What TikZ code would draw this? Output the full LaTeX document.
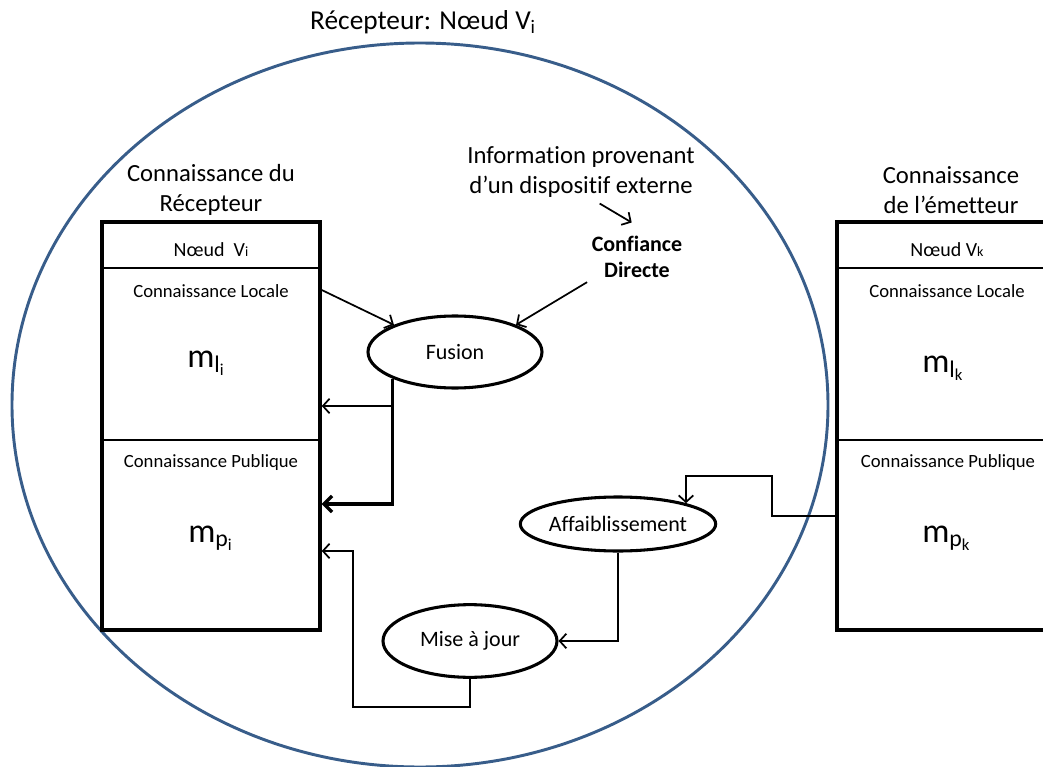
\documentclass[tikz,border=0pt]{standalone}
\usepackage{fontspec}
\setmainfont[Ligatures={NoCommon}]{Carlito}
\usetikzlibrary{positioning, arrows.meta, shapes}
\definecolor{bleuCercle}{RGB}{56,93,138}

\begin{document}
\begin{tikzpicture}[x=0.75pt,y=-0.75pt,
		grand/.style={font=\fontsize{18.5}{22.5}\selectfont,align=center},
		petit/.style={font=\fontsize{14}{16}\selectfont},
		masse/.style={font=\fontsize{25.5}{28}\selectfont,anchor=base west,inner sep=0pt},
		boite/.style={draw,line width=2.6pt,minimum width=163.5pt,minimum height=306pt},
		bulle/.style={draw,ellipse,line width=2.3pt,font=\fontsize{16.5}{18}\selectfont,inner sep=0pt},
		fleche/.style={line width=1.3pt,-{Straight Barb[length=5pt,width=11pt]}},
		grosse/.style={line width=2.5pt,-{Straight Barb[length=6pt,width=12pt]}}]
			\useasboundingbox (0,0) rectangle (1043,767);
			\clip (0,0) rectangle (1043,767);
			
			\draw[bleuCercle,line width=2.2pt] (420,405) ellipse [x radius=306pt, y radius=271.5pt];
			\node[grand,font=\fontsize{20.5}{24}\selectfont] (titre) at (423,22) {Récepteur: Nœud V\textsubscript{i}};
			
			\node[boite] (recep) at (211,426) {};
			\node[boite] (emet) at (946,426) {};
			\foreach \b in {recep,emet} {
				\draw[line width=0.9pt] (\b.west |- 0,268) -- (\b.east |- 0,268);
				\draw[line width=0.9pt] (\b.west |- 0,440) -- (\b.east |- 0,440);
			}
			
			\node[grand] (titreRecep) at (211,190) {Connaissance du\\Récepteur};
			\node[grand] (titreEmet) at (951,190) {Connaissance\\de l’émetteur};
			
			\node[petit,font=\fontsize{15}{17}\selectfont] (noeudI) at (211,250) {Nœud~~V{\fontsize{10.5}{12}\selectfont i}};
			\node[petit] (localeI) at (211,291) {Connaissance Locale};
			\node[petit] (publicI) at (211,463) {Connaissance Publique};
			\node[masse] (mli) at (187,367) {m\textsubscript{l\textsubscript{i}}};
			\node[masse] (mpi) at (188,542) {m\textsubscript{p\textsubscript{i}}};
			
			\node[petit,font=\fontsize{15}{17}\selectfont] (noeudK) at (947,250) {Nœud V{\fontsize{10.5}{12}\selectfont k}};
			\node[petit] (localeK) at (947,291) {Connaissance Locale};
			\node[petit] (publicK) at (948,463) {Connaissance Publique};
			\node[masse] (mlk) at (922,372) {m\textsubscript{l\textsubscript{k}}};
			\node[masse] (mpk) at (922,542) {m\textsubscript{p\textsubscript{k}}};
			
			\node[grand] (info) at (581,172) {Information provenant\\d’un dispositif externe};
			\node[grand,font=\fontsize{16.5}{19}\selectfont\bfseries] (confiance) at (637,257) {Confiance\\Directe};
			
			\node[bulle,minimum width=130.5pt,minimum height=54pt] (fusion) at (455,352) {Fusion};
			\node[bulle,minimum width=137pt,minimum height=40.5pt] (affai) at (618,524) {Affaiblissement};
			\node[bulle,minimum width=130.5pt,minimum height=54.5pt] (maj) at (470,641) {Mise à jour};
			
			\draw[fleche] ([xshift=14pt,yshift=-1pt]info.south) -- ([xshift=-4pt,yshift=7pt]confiance.north);
			\draw[fleche] (confiance.south west) -- (fusion.24);
			\draw[fleche] (recep.east |- 0,290) -- (fusion.156);
			\draw[grosse] (fusion.203) |- (recep.east |- 0,504);
			\draw[fleche] (fusion.203 |- 0,406) -- (recep.east |- 0,406);
			\draw[fleche] (emet.west |- 0,516) -- (772,516) |- (affai.17 |- 0,476) -- (affai.17);
			\draw[fleche] (affai.south) |- (maj.east);
			\draw[fleche] (maj.south) |- (353,707) |- (recep.east |- 0,551);
\end{tikzpicture}
\end{document}
